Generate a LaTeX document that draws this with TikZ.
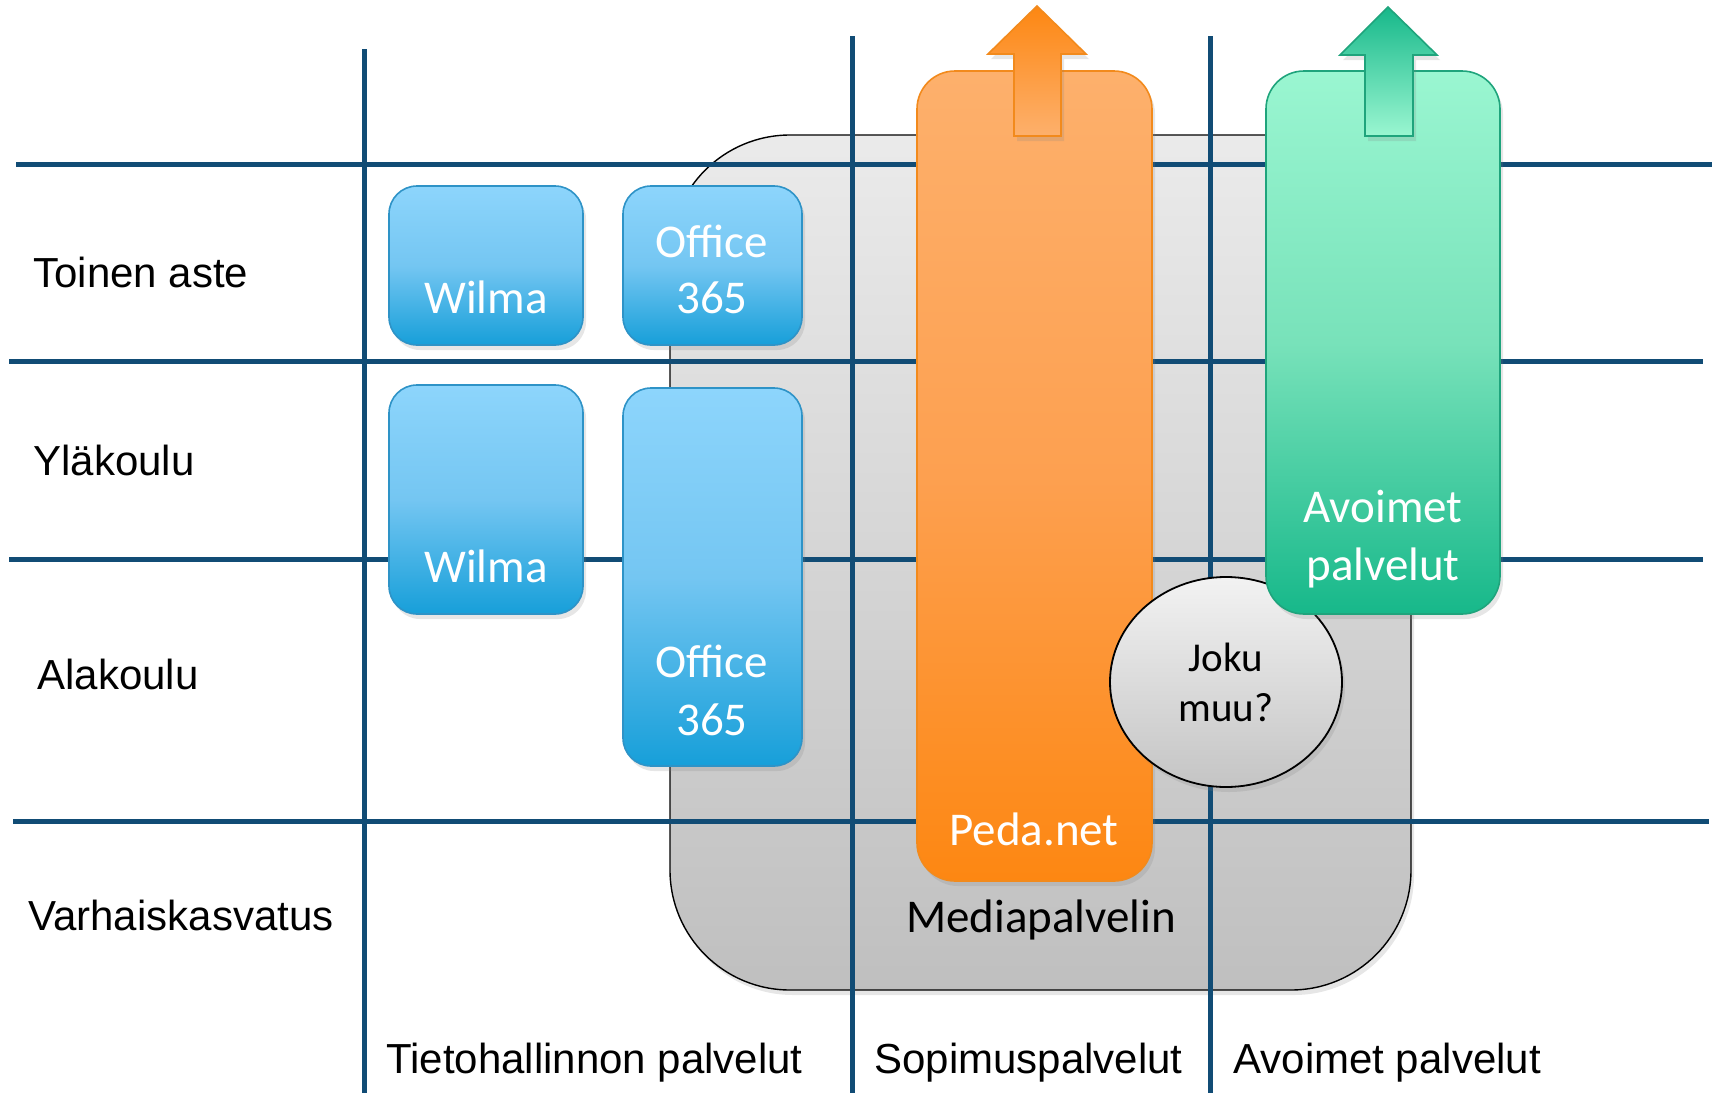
\documentclass[tikz,border=0pt]{standalone}
\usepackage{fontspec}
\setmainfont{Liberation Sans}
\newfontfamily\calibri{Carlito}
\usetikzlibrary{shadows}
\usetikzlibrary{shapes.geometric}

\definecolor{gridblue}{RGB}{17,76,117}
\definecolor{bluetop}{HTML}{8DD5FC}
\definecolor{bluemid}{HTML}{74C6F2}
\definecolor{bluebot}{HTML}{179FD9}
\definecolor{blueedge}{HTML}{2E93C7}
\definecolor{orangetop}{HTML}{FDB06C}
\definecolor{orangemid}{HTML}{FDA050}
\definecolor{orangebot}{HTML}{FD8712}
\definecolor{orangeedge}{HTML}{F28A1C}
\definecolor{greentop}{HTML}{9AF6D1}
\definecolor{greenmid}{HTML}{78E2BA}
\definecolor{greenbot}{HTML}{17B88A}
\definecolor{greenedge}{HTML}{1FA47C}

\tikzset{
  gridline/.style={gridblue, line width=2.5pt},
  softshadow/.style={drop shadow={opacity=0.2, shadow xshift=1.5pt, shadow yshift=-2.5pt}},
  mediabox/.style={draw=black, line width=0.7pt, rounded corners=60pt,
    top color=black!8, bottom color=black!25, softshadow},
  bluebox/.style={draw=blueedge, line width=0.8pt, rounded corners=14pt,
    top color=bluetop, bottom color=bluebot, middle color=bluemid, softshadow},
  orangebox/.style={draw=orangeedge, line width=0.8pt, rounded corners=19pt,
    top color=orangetop, bottom color=orangebot, middle color=orangemid, softshadow},
  greenbox/.style={draw=greenedge, line width=0.8pt, rounded corners=19pt,
    top color=greentop, bottom color=greenbot, middle color=greenmid, softshadow},
  orangearrow/.style={draw=orangeedge, line width=0.8pt,
    top color=orangebot, bottom color=orangetop, softshadow},
  greenarrow/.style={draw=greenedge, line width=0.8pt,
    top color=greenbot, bottom color=greentop, softshadow},
  jokububble/.style={draw=black, line width=0.9pt, ellipse, inner sep=0pt,
    minimum width=116pt, minimum height=105pt, align=center,
    top color=black!5, bottom color=black!23, softshadow,
    font=\calibri\fontsize{20.5}{25}\selectfont},
  boxtext/.style={anchor=base, text=white, inner sep=0pt,
    font=\calibri\fontsize{23.5}{28}\selectfont},
  medialabel/.style={anchor=base, inner sep=0pt,
    font=\calibri\fontsize{23.5}{28}\selectfont},
  rowlabel/.style={anchor=base west, inner sep=0pt,
    font=\fontsize{21}{25}\selectfont},
}

\begin{document}
\begin{tikzpicture}[x=0.5pt,y=-0.5pt]
\useasboundingbox (0,0) rectangle (1715,1093);

% Mediapalvelin
\draw[mediabox] (670,135) rectangle (1411,990);
\node[medialabel] (media) at (1041,932) {Mediapalvelin};

% grid
\foreach \y/\a/\b in {164/16/1712, 361/9/1703, 559/9/1703, 821/13/1709}
  \draw[gridline] (\a,\y) -- (\b,\y);
\foreach \x/\a in {364/49, 852/36, 1210/36}
  \draw[gridline] (\x,\a) -- (\x,1093);

\foreach \x/\y/\t [count=\i] in {33/287/Toinen aste, 33/475/Yläkoulu, 37/689/Alakoulu, 28/930/Varhaiskasvatus}
  \node[rowlabel] (row\i) at (\x,\y) {\t};
\foreach \x/\t [count=\i] in {386/Tietohallinnon palvelut, 874/Sopimuspalvelut, 1233/Avoimet palvelut}
  \node[rowlabel] (col\i) at (\x,1073) {\t};

% tietohallinnon palvelut
\draw[bluebox] (389,186) rectangle (583,345);
\draw[bluebox] (623,186) rectangle (802,345);
\draw[bluebox] (389,385) rectangle (583,614);
\draw[bluebox] (623,388) rectangle (802,766);
\node[boxtext] (wilmaA) at (486,313) {Wilma};
\node[boxtext] (officeA) at (712,257) {Office};
\node[boxtext] (numA) at (712,313) {365};
\node[boxtext] (wilmaB) at (486,582) {Wilma};
\node[boxtext] (officeB) at (712,677) {Office};
\node[boxtext] (numB) at (712,735) {365};

% sopimuspalvelut
\draw[orangebox] (917,71) rectangle (1152,881);
\node[boxtext] (peda) at (1034,845) {Peda.net};
\draw[orangearrow] (1037,6) -- (1086,54) -- (1061,54) -- (1061,136)
  -- (1014,136) -- (1014,54) -- (988,54) -- cycle;

\node[jokububble] (joku) at (1226,682) {Joku\\muu?};

% avoimet palvelut
\draw[greenbox] (1266,71) rectangle (1500,614);
\node[boxtext] (avoimet) at (1383,522) {Avoimet};
\node[boxtext] (palvelut) at (1383,580) {palvelut};
\draw[greenarrow] (1388,7) -- (1437,55) -- (1413,55) -- (1413,136)
  -- (1365,136) -- (1365,55) -- (1340,55) -- cycle;
\end{tikzpicture}
\end{document}
